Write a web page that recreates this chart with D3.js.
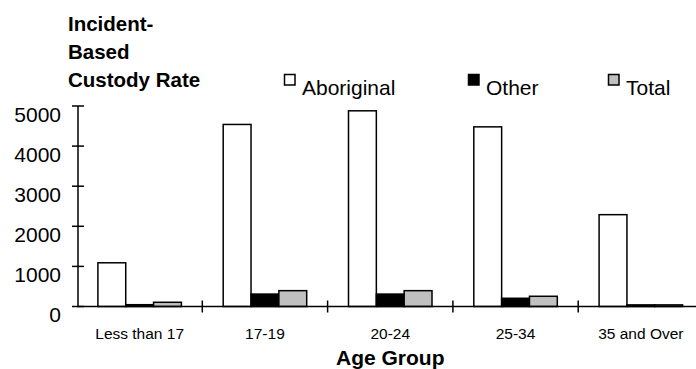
<!DOCTYPE html>
<html>
<head>
<meta charset="utf-8">
<script src="https://cdn.jsdelivr.net/npm/d3@7"></script>
<style>
  html, body { margin: 0; padding: 0; background: #fff; }
  svg { display: block; font-family: "Liberation Sans", Arial, sans-serif; }
</style>
</head>
<body>
<svg id="chart" width="696" height="369"></svg>
<script>
// Incident-based custody rate by age group
const ageGroups = ["Less than 17", "17-19", "20-24", "25-34", "35 and Over"];
const seriesNames = ["Aboriginal", "Other", "Total"];
const aboriginal = [1090, 4540, 4880, 4480, 2290];
const other = [45, 310, 310, 205, 40];
const total = [105, 395, 395, 255, 40];
const yTicks = [0, 1000, 2000, 3000, 4000, 5000];

const fills = { Aboriginal: "#ffffff", Other: "#000000", Total: "#c0c0c0" };
const seriesValues = { Aboriginal: aboriginal, Other: other, Total: total };

const svg = d3.select("#chart");

const x = d3.scaleBand().domain(ageGroups).range([77, 703.5]).paddingInner(0).paddingOuter(0);
const y = d3.scaleLinear().domain([0, 5000]).range([306.5, 106]);
const groupWidth = 83.5;
const xs = d3.scaleBand().domain(seriesNames).range([0, groupWidth]);

// bars
const groups = svg.append("g").selectAll("g")
  .data(ageGroups)
  .join("g")
  .attr("transform", d => `translate(${x(d) + (x.bandwidth() - groupWidth) / 2},0)`);

groups.selectAll("rect")
  .data((d, i) => seriesNames.map(s => ({ s, v: seriesValues[s][i] })))
  .join("rect")
  .attr("x", d => xs(d.s))
  .attr("width", xs.bandwidth())
  .attr("y", d => y(d.v))
  .attr("height", d => y(0) - y(d.v))
  .attr("fill", d => fills[d.s])
  .attr("stroke", "#000")
  .attr("stroke-width", 1.5);

// y axis
const yAxis = svg.append("g").attr("transform", "translate(78,0)");
yAxis.append("line").attr("x1", 0).attr("x2", 0).attr("y1", y(5000)).attr("y2", y(0))
  .attr("stroke", "#000").attr("stroke-width", 1.5);
yAxis.selectAll("line.tick").data(yTicks).join("line").attr("class", "tick")
  .attr("x1", -6).attr("x2", 6).attr("y1", d => y(d)).attr("y2", d => y(d))
  .attr("stroke", "#000").attr("stroke-width", 1.5);
yAxis.selectAll("text").data(yTicks).join("text")
  .attr("x", -17).attr("y", d => y(d) + 15.5)
  .attr("text-anchor", "end").attr("font-size", 21).attr("fill", "#000")
  .text(d => d);

// x axis
const xAxis = svg.append("g").attr("transform", `translate(0,${y(0)})`);
xAxis.append("line").attr("x1", 77).attr("x2", 703.5).attr("y1", 0).attr("y2", 0)
  .attr("stroke", "#000").attr("stroke-width", 1.5);
xAxis.selectAll("line.tick").data(ageGroups.slice(1)).join("line").attr("class", "tick")
  .attr("x1", d => x(d)).attr("x2", d => x(d)).attr("y1", -6).attr("y2", 6)
  .attr("stroke", "#000").attr("stroke-width", 1.5);
xAxis.selectAll("text").data(ageGroups).join("text")
  .attr("x", d => x(d) + x.bandwidth() / 2).attr("y", 32)
  .attr("text-anchor", "middle").attr("font-size", 15.5).attr("fill", "#000")
  .text(d => d);

// axis titles
svg.append("text").attr("x", x("20-24") + x.bandwidth() / 2).attr("y", 365)
  .attr("text-anchor", "middle").attr("font-size", 21).attr("font-weight", "bold")
  .text("Age Group");

const yTitle = svg.append("text").attr("font-size", 20.5).attr("font-weight", "bold");
["Incident-", "Based", "Custody Rate"].forEach((t, i) => {
  yTitle.append("tspan").attr("x", 68).attr("y", 31 + i * 28).text(t);
});

// legend
const legendX = { Aboriginal: 284.5, Other: 468.5, Total: 608.5 };
const legend = svg.append("g").selectAll("g").data(seriesNames).join("g")
  .attr("transform", d => `translate(${legendX[d]},74.5)`);
legend.append("rect").attr("width", 10.5).attr("height", 10.5)
  .attr("fill", d => fills[d]).attr("stroke", "#000").attr("stroke-width", 1.5);
legend.append("text").attr("x", 17.5).attr("y", 20.5).attr("font-size", 21)
  .text(d => d);
</script>
</body>
</html>
